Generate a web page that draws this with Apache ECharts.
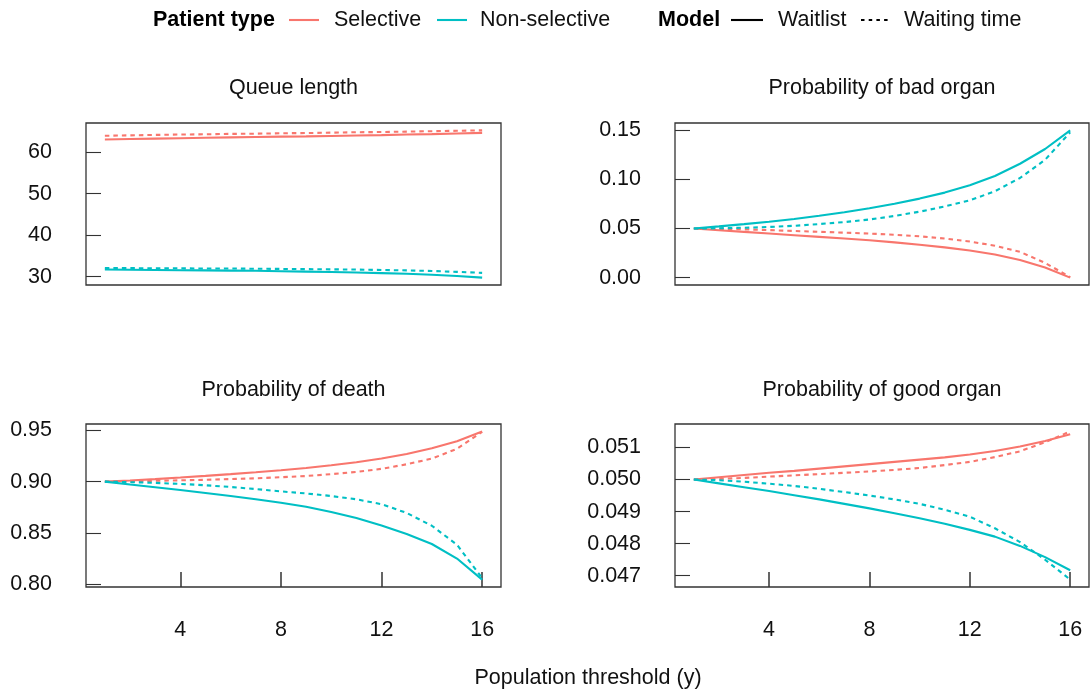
<!DOCTYPE html>
<html>
<head>
<meta charset="utf-8">
<script src="https://cdn.jsdelivr.net/npm/echarts@6/dist/echarts.min.js"></script>
<style>
  html, body { margin: 0; padding: 0; background: #ffffff; }
  #chart { width: 1090px; height: 694px; }
</style>
</head>
<body>
<div id="chart"></div>
<script>
// Population threshold (years)
const thresholds = [1, 2, 3, 4, 5, 6, 7, 8, 9, 10, 11, 12, 13, 14, 15, 16];

// Queue length
const selWaitQueue = [63.1, 63.2, 63.3, 63.4, 63.5, 63.6, 63.7, 63.8, 63.85, 63.95, 64.05, 64.15, 64.3, 64.4, 64.55, 64.7];
const selTimeQueue = [64.0, 64.1, 64.2, 64.3, 64.35, 64.45, 64.5, 64.6, 64.65, 64.75, 64.85, 64.9, 65.0, 65.1, 65.2, 65.3];
const nonWaitQueue = [31.7, 31.65, 31.6, 31.55, 31.5, 31.45, 31.4, 31.3, 31.2, 31.1, 31.0, 30.85, 30.7, 30.45, 30.15, 29.75];
const nonTimeQueue = [32.05, 32.05, 32.0, 32.0, 31.95, 31.95, 31.9, 31.85, 31.8, 31.75, 31.7, 31.6, 31.5, 31.35, 31.15, 30.9];

// Probability of bad organ
const selWaitBad = [0.05, 0.0483, 0.0466, 0.0449, 0.0432, 0.0415, 0.0398, 0.0381, 0.0359, 0.0335, 0.0308, 0.0276, 0.0235, 0.0180, 0.0103, 0.0];
const selTimeBad = [0.05, 0.0497, 0.0492, 0.0484, 0.0475, 0.0467, 0.0458, 0.0449, 0.0437, 0.0421, 0.0398, 0.0368, 0.0325, 0.0263, 0.0150, 0.0005];
const nonWaitBad = [0.05, 0.0522, 0.0545, 0.0570, 0.0598, 0.0630, 0.0666, 0.0707, 0.0752, 0.0805, 0.0866, 0.0940, 0.1035, 0.1160, 0.1310, 0.1500];
const nonTimeBad = [0.05, 0.0503, 0.0508, 0.0516, 0.0528, 0.0546, 0.0566, 0.0592, 0.0628, 0.0672, 0.0725, 0.0787, 0.0880, 0.1015, 0.1200, 0.1480];

// Probability of death
const selWaitDeath = [0.9, 0.9012, 0.9025, 0.9040, 0.9056, 0.9073, 0.9092, 0.9112, 0.9133, 0.9160, 0.9190, 0.9225, 0.9270, 0.9325, 0.9395, 0.9490];
const selTimeDeath = [0.9, 0.9003, 0.9008, 0.9013, 0.9018, 0.9025, 0.9033, 0.9043, 0.9055, 0.9073, 0.9095, 0.9125, 0.9170, 0.9225, 0.9320, 0.9485];
const nonWaitDeath = [0.9, 0.8972, 0.8945, 0.8918, 0.8890, 0.8860, 0.8829, 0.8795, 0.8755, 0.8705, 0.8645, 0.8572, 0.8490, 0.8392, 0.8250, 0.8045];
const nonTimeDeath = [0.9, 0.8995, 0.8988, 0.8978, 0.8965, 0.8948, 0.8928, 0.8905, 0.8885, 0.8860, 0.8828, 0.8780, 0.8695, 0.8570, 0.8385, 0.8060];

// Probability of good organ
const selWaitGood = [0.05, 0.05007, 0.05014, 0.05021, 0.05027, 0.05034, 0.05041, 0.05048, 0.05055, 0.05062, 0.05069, 0.05078, 0.05089, 0.05103, 0.0512, 0.05141];
const selTimeGood = [0.05, 0.05002, 0.05005, 0.05009, 0.05013, 0.05017, 0.05021, 0.05025, 0.0503, 0.05036, 0.05045, 0.05055, 0.0507, 0.05088, 0.05116, 0.0515];
const nonWaitGood = [0.05, 0.04988, 0.04976, 0.04964, 0.04951, 0.04938, 0.04924, 0.0491, 0.04895, 0.04879, 0.04862, 0.04843, 0.04822, 0.04793, 0.04758, 0.04717];
const nonTimeGood = [0.05, 0.04998, 0.04993, 0.04987, 0.0498, 0.04971, 0.04961, 0.0495, 0.04938, 0.04924, 0.04906, 0.04884, 0.04848, 0.04805, 0.0475, 0.04688];

// Tick labels
const xTicks = [4, 8, 12, 16];
const queueTicks = [30, 40, 50, 60];
const badTicks = [0, 0.05, 0.10, 0.15];
const deathTicks = [0.80, 0.85, 0.90, 0.95];
const goodTicks = [0.047, 0.048, 0.049, 0.050, 0.051];

const panelTitles = ['Queue length', 'Probability of bad organ', 'Probability of death', 'Probability of good organ'];
const patientTypes = ['Selective', 'Non-selective'];
const models = ['Waitlist', 'Waiting time'];

const RED = '#F8766D';
const CYAN = '#00BFC4';
const INK = '#111111';
const FONT = '"Liberation Sans", Arial, sans-serif';
const FS = 21.5;

const panels = [
  { title: panelTitles[0], ticks: queueTicks, dec: 0, series: [[selWaitQueue, selTimeQueue], [nonWaitQueue, nonTimeQueue]] },
  { title: panelTitles[1], ticks: badTicks, dec: 2, series: [[selWaitBad, selTimeBad], [nonWaitBad, nonTimeBad]] },
  { title: panelTitles[2], ticks: deathTicks, dec: 2, series: [[selWaitDeath, selTimeDeath], [nonWaitDeath, nonTimeDeath]] },
  { title: panelTitles[3], ticks: goodTicks, dec: 3, series: [[selWaitGood, selTimeGood], [nonWaitGood, nonTimeGood]] }
];

// Panel boxes (px)
const boxes = [
  { left: 86, top: 123, width: 415, height: 162 },
  { left: 675, top: 123, width: 414, height: 162 },
  { left: 86, top: 424, width: 415, height: 163 },
  { left: 675, top: 424, width: 414, height: 163 }
];

const DASH = [4.5, 4];
const typeColors = [RED, CYAN];

const grids = [], xAxes = [], yAxes = [], series = [];

panels.forEach((p, i) => {
  const b = boxes[i];
  grids.push({ left: b.left, top: b.top, width: b.width, height: b.height, show: true,
    borderColor: '#333333', borderWidth: 1.3, backgroundColor: 'transparent' });

  const bottomRow = i >= 2;
  xAxes.push({
    type: 'value', gridIndex: i, min: 0.25, max: 16.75,
    axisLine: { show: false },
    splitLine: { show: false },
    axisTick: { show: bottomRow, inside: true, length: 15, customValues: xTicks,
      lineStyle: { color: '#333333', width: 1.5 } },
    axisLabel: { show: bottomRow, customValues: xTicks, margin: 32, color: INK,
      fontSize: FS, fontFamily: FONT }
  });

  // 5% padding around the panel's data range
  const all = p.series.flat(2);
  const lo = Math.min(...all), hi = Math.max(...all);
  const pad = (hi - lo) * 0.05;
  yAxes.push({
    type: 'value', gridIndex: i, min: lo - pad, max: hi + pad,
    axisLine: { show: false },
    splitLine: { show: false },
    axisTick: { show: true, inside: true, length: 15, customValues: p.ticks,
      lineStyle: { color: '#333333', width: 1.1 } },
    axisLabel: { customValues: p.ticks, margin: 34, color: INK, fontSize: FS, fontFamily: FONT,
      formatter: v => v.toFixed(p.dec) }
  });

  p.series.forEach((pair, t) => {
    pair.forEach((vals, m) => {
      series.push({
        type: 'line', name: patientTypes[t] + ' / ' + models[m],
        xAxisIndex: i, yAxisIndex: i,
        data: thresholds.map((x, k) => [x, vals[k]]),
        showSymbol: false, symbol: 'none', smooth: false,
        lineStyle: { color: typeColors[t], width: 2.1, type: m === 0 ? 'solid' : DASH },
        itemStyle: { color: typeColors[t] },
        z: 3
      });
    });
  });
});

function label(text, x, y) {
  return { type: 'text', x: x, y: y,
    style: { text: text, fill: INK, font: FS + 'px ' + FONT, align: 'center', verticalAlign: 'middle' } };
}
function boldLabel(text, x, y) {
  return { type: 'text', x: x, y: y,
    style: { text: text, fill: '#000', font: 'bold ' + FS + 'px ' + FONT, align: 'left', verticalAlign: 'middle' } };
}
function plainLeft(text, x, y) {
  return { type: 'text', x: x, y: y,
    style: { text: text, fill: INK, font: FS + 'px ' + FONT, align: 'left', verticalAlign: 'middle' } };
}
function keyLine(x1, x2, y, color, dashed) {
  return { type: 'line', shape: { x1: x1, y1: y, x2: x2, y2: y },
    style: { stroke: color, lineWidth: 2.1, lineDash: dashed ? [3.5, 4.2] : null } };
}

const LY = 20;
const graphic = [
  // panel titles
  label(panelTitles[0], 293.5, 88),
  label(panelTitles[1], 882, 88),
  label(panelTitles[2], 293.5, 390),
  label(panelTitles[3], 882, 390),
  // shared x-axis title
  label('Population threshold (y)', 588, 678),
  // legend
  boldLabel('Patient type', 153, LY),
  keyLine(289, 319, LY, RED, false),
  plainLeft(patientTypes[0], 334, LY),
  keyLine(437, 467, LY, CYAN, false),
  plainLeft(patientTypes[1], 480, LY),
  boldLabel('Model', 658, LY),
  keyLine(731, 763, LY, '#000', false),
  plainLeft(models[0], 778, LY),
  keyLine(861, 891, LY, '#000', true),
  plainLeft(models[1], 904, LY)
];

const chart = echarts.init(document.getElementById('chart'), null, { renderer: 'canvas' });
chart.setOption({
  animation: false,
  backgroundColor: '#ffffff',
  grid: grids,
  xAxis: xAxes,
  yAxis: yAxes,
  series: series,
  graphic: graphic
});
</script>
</body>
</html>
